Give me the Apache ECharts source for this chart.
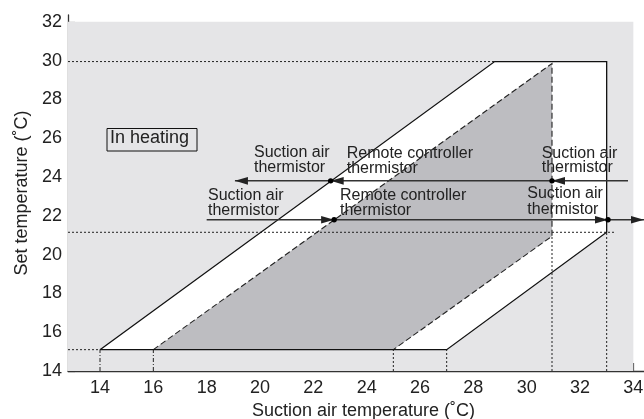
<!DOCTYPE html>
<html>
<head>
<meta charset="utf-8">
<script src="https://cdn.jsdelivr.net/npm/echarts@6/dist/echarts.min.js"></script>
<style>
  html, body { margin: 0; padding: 0; background: #fff; }
  #chart { width: 644px; height: 419px; }
</style>
</head>
<body>
<div id="chart"></div>
<script>
// Axis ticks
const xTicks = [14, 16, 18, 20, 22, 24, 26, 28, 30, 32, 34];
const yTicks = [14, 16, 18, 20, 22, 24, 26, 28, 30, 32];

// Shaded operating region (light grey field)
const plotField = [[12.8, 14], [34, 14], [34, 32], [12.8, 32]];

// Outer band (white) and inner remote-controller band (dark grey)
const outerBand = [[14, 15.1], [27, 15.1], [33, 21.15], [33, 29.95], [28.8, 29.95]];
const innerBand = [[16, 15.1], [25, 15.1], [30.95, 20.95], [30.95, 29.85]];
const innerEdge = [[16, 15.1], [30.95, 29.85], [30.95, 20.95], [25, 15.1]];

// Reference guide lines
const dottedGuides = [
  [[12.8, 29.95], [28.8, 29.95]],
  [[12.8, 21.15], [33.3, 21.15]],
  [[12.8, 15.1], [14, 15.1]],
  [[25, 14], [25, 15.1]],
  [[27, 14], [27, 15.1]],
  [[30.95, 14], [30.95, 20.95]],
  [[33, 14], [33, 21.15]]
];
const dashDotGuides = [
  [[14, 14], [14, 15.1]],
  [[16, 14], [16, 15.1]]
];

// Switching paths: falling temperature (upper) and rising temperature (lower)
const fallingY = 23.8;
const fallingPath = [[33.8, fallingY], [19.06, fallingY]];
const fallingHeads = [30.95, 22.65, 19.06];
const fallingDots = [22.65, 30.95];

const risingY = 21.8;
const risingPath = [[18.0, risingY], [34.4, risingY]];
const risingHeads = [22.78, 33.05, 34.4];
const risingDots = [22.78, 33.05];

const INK = '#222';
const FONT = '"Liberation Sans", Arial, Helvetica, sans-serif';

function shapeSeries(z, build) {
  return {
    type: 'custom',
    coordinateSystem: 'cartesian2d',
    silent: true,
    clip: false,
    z: z,
    data: [[20, 20]],
    renderItem: function (params, api) {
      return { type: 'group', children: build(api) };
    }
  };
}

function poly(api, pts, style) {
  return { type: 'polygon', shape: { points: pts.map(p => api.coord(p)) }, style: style };
}
function line(api, pts, style) {
  return { type: 'polyline', shape: { points: pts.map(p => api.coord(p)) }, style: Object.assign({ fill: null }, style) };
}
function head(api, x, y, dir) {
  const t = api.coord([x, y]);
  const L = 13, H = 3.8;
  return {
    type: 'polygon',
    shape: { points: [t, [t[0] - dir * L, t[1] - H], [t[0] - dir * L, t[1] + H]] },
    style: { fill: INK }
  };
}
function dot(api, x, y) {
  const c = api.coord([x, y]);
  return { type: 'circle', shape: { cx: c[0], cy: c[1], r: 2.7 }, style: { fill: '#000' } };
}

const series = [
  shapeSeries(1, api => [poly(api, plotField, { fill: '#e5e5e7' })]),
  shapeSeries(2, api => [poly(api, outerBand, { fill: '#ffffff' })]),
  shapeSeries(3, api => [poly(api, innerBand, { fill: '#bdbdc1' })]),
  shapeSeries(4, api => dottedGuides.map(g => line(api, g, { stroke: INK, lineWidth: 1, lineDash: [2, 2] }))
    .concat(dashDotGuides.map(g => line(api, g, { stroke: INK, lineWidth: 1, lineDash: [4, 2, 1, 2] })))),
  shapeSeries(5, api => [line(api, innerEdge, { stroke: INK, lineWidth: 1.1, lineDash: [6, 3] })]),
  shapeSeries(6, api => [line(api, outerBand.concat([outerBand[0]]), { stroke: '#111', lineWidth: 1.3 })]),
  shapeSeries(7, api => {
    const out = [
      line(api, fallingPath, { stroke: '#333', lineWidth: 1.5 }),
      line(api, risingPath, { stroke: '#333', lineWidth: 1.5 })
    ];
    fallingHeads.forEach(x => out.push(head(api, x, fallingY, -1)));
    risingHeads.forEach(x => out.push(head(api, x, risingY, 1)));
    fallingDots.forEach(x => out.push(dot(api, x, fallingY)));
    risingDots.forEach(x => out.push(dot(api, x, risingY)));
    return out;
  })
];

function note(x, y, text, lh) {
  return {
    type: 'text', x: x, y: y, z: 20, silent: true,
    style: { text: text, fill: INK, font: '16px ' + FONT, lineHeight: lh || 15, verticalAlign: 'top' }
  };
}

const chart = echarts.init(document.getElementById('chart'), null, { renderer: 'canvas' });
chart.setOption({
  animation: false,
  backgroundColor: '#fff',
  grid: { left: 68, right: 0, top: 15, bottom: 48, containLabel: false, outerBoundsMode: 'none' },
  xAxis: {
    type: 'value', min: 12.8, max: 34.4,
    name: 'Suction air temperature (˚C)', nameLocation: 'middle', nameGap: 30,
    nameTextStyle: { fontFamily: FONT, fontSize: 18, color: INK, padding: [0, 0, 0, 15] },
    axisLine: { show: true, lineStyle: { color: '#333', width: 1.3 } },
    axisTick: { show: true, inside: true, length: 8, customValues: xTicks, lineStyle: { color: '#333', width: 1.2 } },
    axisLabel: { customValues: xTicks, fontFamily: FONT, fontSize: 18, color: INK, margin: 8 },
    splitLine: { show: false }
  },
  yAxis: {
    type: 'value', min: 14, max: 32.35,
    name: 'Set temperature (˚C)', nameLocation: 'middle', nameGap: 37,
    nameTextStyle: { fontFamily: FONT, fontSize: 18, color: INK },
    axisLine: { show: true, lineStyle: { color: '#333', width: 1.3 } },
    axisTick: { show: true, inside: true, length: 7, customValues: yTicks, lineStyle: { color: '#333', width: 1.2 } },
    axisLabel: { customValues: yTicks, fontFamily: FONT, fontSize: 18, color: INK, margin: 6 },
    splitLine: { show: false }
  },
  series: series,
  graphic: [
    { type: 'rect', z: 20, silent: true, shape: { x: 107, y: 128.5, width: 90, height: 22.5 },
      style: { fill: null, stroke: '#111', lineWidth: 1 } },
    { type: 'text', z: 21, silent: true, x: 110, y: 129,
      style: { text: 'In heating', fill: INK, font: '18px ' + FONT, verticalAlign: 'top' } },
    note(254, 145.3, 'Suction air\nthermistor'),
    note(346.7, 146.3, 'Remote controller\nthermistor'),
    note(541.7, 146.3, 'Suction air\nthermistor', 14),
    note(208, 188.7, 'Suction air\nthermistor', 14.5),
    note(340, 188.7, 'Remote controller\nthermistor', 14.5),
    note(527.3, 185.3, 'Suction air\nthermistor', 16.5)
  ]
});
</script>
</body>
</html>
